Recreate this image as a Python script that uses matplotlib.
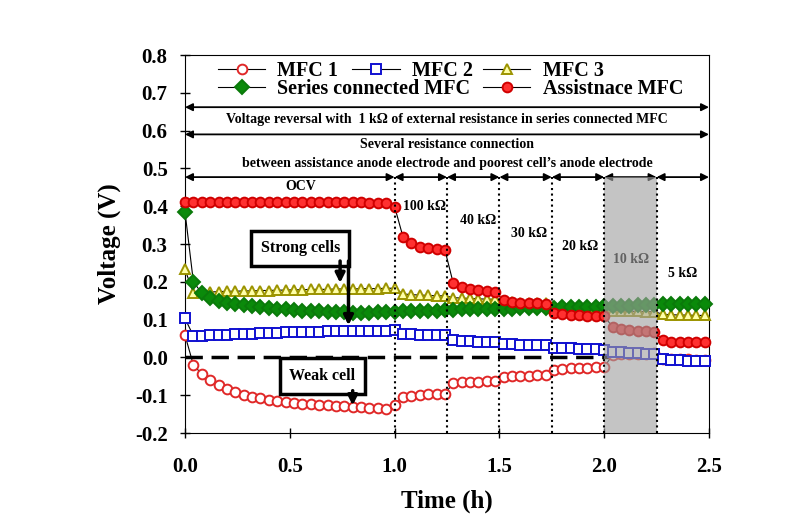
import matplotlib
matplotlib.use("Agg")
import matplotlib.pyplot as plt

# time axis (h), sampled every 0.04 h
time_h = [0.00, 0.04, 0.08, 0.12, 0.16, 0.20, 0.24, 0.28, 0.32, 0.36,
          0.40, 0.44, 0.48, 0.52, 0.56, 0.60, 0.64, 0.68, 0.72, 0.76,
          0.80, 0.84, 0.88, 0.92, 0.96, 1.00,
          1.04, 1.08, 1.12, 1.16, 1.20, 1.24,
          1.28, 1.32, 1.36, 1.40, 1.44, 1.48,
          1.52, 1.56, 1.60, 1.64, 1.68, 1.72,
          1.76, 1.80, 1.84, 1.88, 1.92, 1.96, 2.00,
          2.04, 2.08, 2.12, 2.16, 2.20, 2.24,
          2.28, 2.32, 2.36, 2.40, 2.44, 2.48]

mfc1 = [0.059, -0.020, -0.044, -0.060, -0.074, -0.084, -0.091, -0.099, -0.104, -0.108,
        -0.112, -0.115, -0.118, -0.120, -0.122, -0.124, -0.125, -0.127, -0.128, -0.129,
        -0.130, -0.131, -0.133, -0.134, -0.137, -0.125,
        -0.105, -0.102, -0.100, -0.098, -0.097, -0.096,
        -0.068, -0.066, -0.065, -0.064, -0.063, -0.062,
        -0.052, -0.050, -0.049, -0.048, -0.047, -0.046,
        -0.033, -0.030, -0.029, -0.028, -0.027, -0.026, -0.025,
        0.006, 0.008, 0.009, 0.010, 0.010, 0.011,
        -0.003, -0.004, -0.005, -0.005, -0.006, -0.006]

mfc2 = [0.103, 0.057, 0.057, 0.058, 0.059, 0.060, 0.061, 0.062, 0.063, 0.064,
        0.065, 0.065, 0.066, 0.067, 0.067, 0.068, 0.068, 0.069, 0.069, 0.070,
        0.070, 0.070, 0.071, 0.071, 0.071, 0.072,
        0.063, 0.061, 0.060, 0.059, 0.058, 0.058,
        0.046, 0.044, 0.043, 0.042, 0.042, 0.041,
        0.036, 0.035, 0.034, 0.034, 0.033, 0.033,
        0.026, 0.025, 0.024, 0.023, 0.022, 0.021, 0.020,
        0.015, 0.013, 0.012, 0.011, 0.010, 0.010,
        -0.003, -0.006, -0.008, -0.009, -0.010, -0.010]

mfc3 = [0.233, 0.170, 0.172, 0.173, 0.174, 0.175, 0.175, 0.176, 0.176, 0.177,
        0.177, 0.178, 0.178, 0.179, 0.179, 0.180, 0.180, 0.180, 0.181, 0.181,
        0.181, 0.182, 0.182, 0.182, 0.183, 0.183,
        0.168, 0.166, 0.165, 0.164, 0.163, 0.163,
        0.158, 0.157, 0.156, 0.155, 0.154, 0.154,
        0.147, 0.146, 0.145, 0.145, 0.144, 0.144,
        0.131, 0.130, 0.129, 0.128, 0.128, 0.127, 0.127,
        0.124, 0.123, 0.122, 0.122, 0.121, 0.121,
        0.114, 0.113, 0.112, 0.112, 0.111, 0.111]

series_mfc = [0.385, 0.200, 0.170, 0.158, 0.150, 0.145, 0.141, 0.138, 0.135, 0.133,
              0.131, 0.129, 0.127, 0.126, 0.124, 0.123, 0.122, 0.121, 0.120, 0.119,
              0.118, 0.118, 0.118, 0.119, 0.120, 0.121,
              0.122, 0.123, 0.123, 0.124, 0.124, 0.125,
              0.126, 0.127, 0.127, 0.128, 0.128, 0.128,
              0.129, 0.129, 0.130, 0.130, 0.130, 0.130,
              0.132, 0.133, 0.133, 0.134, 0.134, 0.134, 0.135,
              0.136, 0.137, 0.137, 0.138, 0.138, 0.138,
              0.140, 0.141, 0.141, 0.141, 0.142, 0.142]

assist_mfc = [0.412, 0.410, 0.410, 0.411, 0.410, 0.410, 0.411, 0.410, 0.410, 0.410,
              0.411, 0.410, 0.410, 0.410, 0.411, 0.410, 0.410, 0.410, 0.410, 0.410,
              0.410, 0.410, 0.409, 0.409, 0.408, 0.399,
              0.319, 0.302, 0.293, 0.289, 0.286, 0.284,
              0.196, 0.187, 0.181, 0.178, 0.175, 0.173,
              0.151, 0.147, 0.145, 0.144, 0.143, 0.142,
              0.118, 0.114, 0.112, 0.111, 0.110, 0.110, 0.110,
              0.080, 0.075, 0.072, 0.070, 0.069, 0.068,
              0.045, 0.042, 0.041, 0.041, 0.041, 0.041]

# resistance steps (h) and their labels
step_edges = [0.0, 1.0, 1.25, 1.5, 1.75, 2.0, 2.25, 2.5]
step_labels = ["OCV", "100 k\u03a9", "40 k\u03a9", "30 k\u03a9", "20 k\u03a9", "10 k\u03a9", "5 k\u03a9"]
label_x = [0.55, 1.145, 1.40, 1.64, 1.885, 2.13, 2.375]
label_y = [0.452, 0.399, 0.363, 0.328, 0.293, 0.258, 0.222]

plt.rcParams['font.family'] = ['Liberation Serif', 'DejaVu Serif']
plt.rcParams['font.weight'] = 'bold'
plt.rcParams['axes.labelweight'] = 'bold'

fig = plt.figure(figsize=(8.1, 5.21), dpi=100)
ax = fig.add_axes([0.2284, 0.1689, 0.6469, 0.7255])

line_kw = dict(color='black', linewidth=0.8, markersize=7, markeredgewidth=1.4, clip_on=False)
l1, = ax.plot(time_h, mfc1, marker='o', markerfacecolor='white', markeredgecolor='#e02828',
              label='MFC 1', zorder=3, **line_kw)
l2, = ax.plot(time_h, mfc2, marker='s', markerfacecolor='white', markeredgecolor='#1010d0',
              label='MFC 2', zorder=3, **line_kw)
l3, = ax.plot(time_h, mfc3, marker='^', markerfacecolor='#ffffa8', markeredgecolor='#9c9400',
              label='MFC 3', zorder=3, **line_kw)
l4, = ax.plot(time_h, series_mfc, marker='D', markerfacecolor='#0a8a0a', markeredgecolor='#0a7a0a',
              label='Series connected MFC', zorder=4, **line_kw)
l5, = ax.plot(time_h, assist_mfc, marker='o', markerfacecolor='#ff3030', markeredgecolor='#d00000',
              label='Assistnace MFC', zorder=4, **line_kw)

# zero line
ax.axhline(0, color='black', linestyle=(0, (5, 2.5)), linewidth=2.5, zorder=2)

# resistance step boundaries
seg_top = 0.477
for x in step_edges[1:-1]:
    ax.plot([x, x], [-0.2, seg_top], color='black', linestyle=':', linewidth=1.5, zorder=6)

# shaded 10 kOhm period, drawn over the data
ax.fill_between([2.0, 2.25], -0.2, seg_top, color='#a0a0a0', alpha=0.62, linewidth=0, zorder=5)

arrow_kw = dict(arrowstyle='<|-|>', color='black', lw=1.3, mutation_scale=11, shrinkA=0, shrinkB=0)
ax.annotate('', xy=(0.0, 0.662), xytext=(2.5, 0.662), arrowprops=arrow_kw)
ax.text(1.25, 0.630, "Voltage reversal with  1 k\u03a9 of external resistance in series connected MFC",
        ha='center', va='center', fontsize=10)
ax.annotate('', xy=(0.0, 0.590), xytext=(2.5, 0.590), arrowprops=arrow_kw)
ax.text(1.25, 0.564, "Several resistance connection", ha='center', va='center', fontsize=10)
ax.text(1.25, 0.514, "between assistance anode electrode and poorest cell\u2019s anode electrode",
        ha='center', va='center', fontsize=10)
for a, b in zip(step_edges[:-1], step_edges[1:]):
    ax.annotate('', xy=(a, seg_top), xytext=(b, seg_top), arrowprops=arrow_kw)
for lab, x, y in zip(step_labels, label_x, label_y):
    ax.text(x, y, lab, ha='center', va='center', fontsize=10, zorder=3)

# callout boxes
box_kw = dict(boxstyle='square,pad=0.6', facecolor='white', edgecolor='black', linewidth=2.5)
ax.text(0.55, 0.289, "Strong cells", ha='center', va='center', fontsize=11.5, bbox=box_kw, zorder=7)
ax.text(0.655, -0.049, "Weak cell", ha='center', va='center', fontsize=11.5, bbox=box_kw, zorder=7)
head_kw = dict(arrowstyle='-|>', color='black', lw=2.5, mutation_scale=14, shrinkA=0, shrinkB=0)
ax.annotate('', xy=(0.74, 0.197), xytext=(0.74, 0.255), arrowprops=head_kw, zorder=7)
ax.annotate('', xy=(0.78, 0.085), xytext=(0.78, 0.255), arrowprops=head_kw, zorder=7)
ax.annotate('', xy=(0.80, -0.127), xytext=(0.80, -0.088), arrowprops=head_kw, zorder=7)

ax.set_xlim(0, 2.5)
ax.set_ylim(-0.2, 0.8)
ax.set_xticks([0.0, 0.5, 1.0, 1.5, 2.0, 2.5])
ax.set_yticks([-0.2, -0.1, 0.0, 0.1, 0.2, 0.3, 0.4, 0.5, 0.6, 0.7, 0.8])
ax.xaxis.set_major_formatter(matplotlib.ticker.FormatStrFormatter('%.1f'))
ax.yaxis.set_major_formatter(matplotlib.ticker.FormatStrFormatter('%.1f'))
ax.tick_params(axis='both', direction='inout', length=7, width=1, labelsize=15)
ax.tick_params(axis='x', pad=14)
ax.tick_params(axis='y', pad=9)
ax.set_xlabel('Time (h)', fontsize=18, labelpad=9)
ax.set_ylabel('Voltage (V)', fontsize=18, labelpad=10)

# legend split in pieces to copy the original layout
leg_kw = dict(loc='center left', frameon=False, borderpad=0, borderaxespad=0,
              handlelength=2.35, handletextpad=0.6, columnspacing=0.7,
              prop={'family': 'Liberation Serif', 'weight': 'bold', 'size': 14.5})
leg1 = ax.legend(handles=[l1, l2], ncol=2, bbox_to_anchor=(0.063, 0.958), **leg_kw)
ax.add_artist(leg1)
leg2 = ax.legend(handles=[l4], bbox_to_anchor=(0.063, 0.910), **leg_kw)
ax.add_artist(leg2)
leg3 = ax.legend(handles=[l3], bbox_to_anchor=(0.569, 0.958), **leg_kw)
ax.add_artist(leg3)
ax.legend(handles=[l5], bbox_to_anchor=(0.569, 0.910), **leg_kw)

fig.savefig('out.png', dpi=100)
